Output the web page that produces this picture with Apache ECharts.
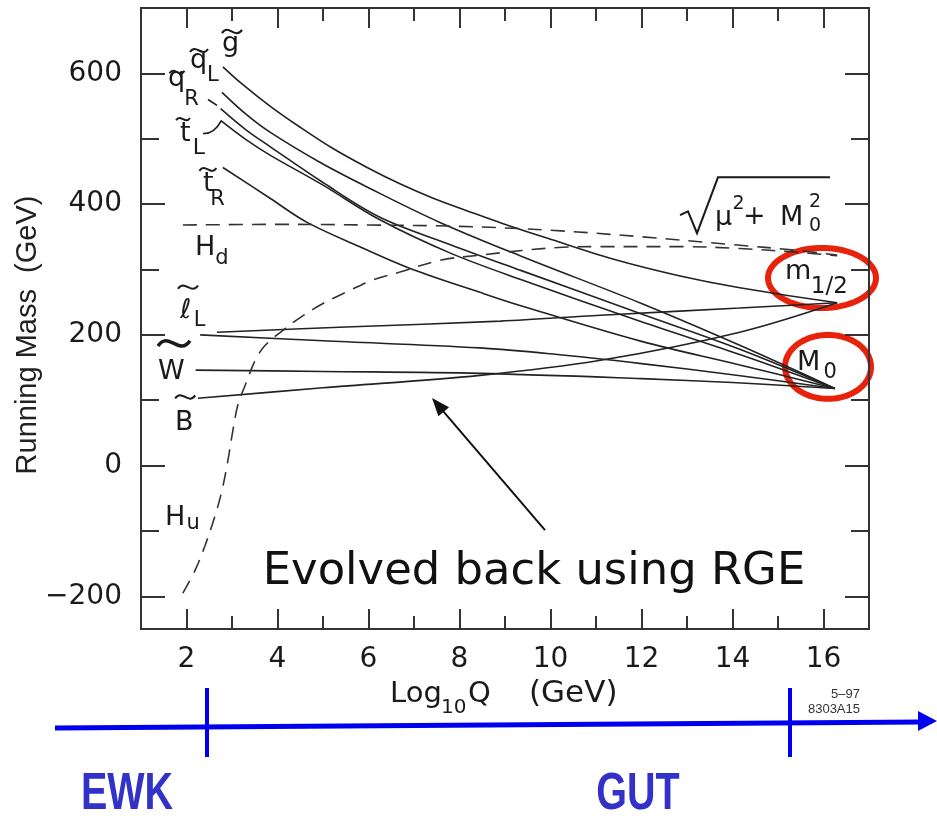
<!DOCTYPE html>
<html>
<head>
<meta charset="utf-8">
<script src="https://cdn.jsdelivr.net/npm/echarts@6/dist/echarts.min.js"></script>
<style>
  html, body { margin: 0; padding: 0; background: #fff; }
  #chart { width: 937px; height: 819px; }
</style>
</head>
<body>
<div id="chart"></div>
<script>
// Running sparticle masses [Log10 Q, mass in GeV]
const gluino = [[2.8, 610], [3.2, 585], [3.835, 550], [4.49, 518], [5.22, 485], [5.97, 456], [6.69, 431], [7.42, 409], [8.16, 390], [8.96, 370], [9.92, 348], [11.37, 316], [12.85, 290], [14.16, 272], [16.3, 249]];
const squarkL = [[2.78, 571], [3.3, 538], [3.835, 510], [4.93, 464], [6.03, 424], [7.57, 372], [9.33, 321], [12, 248], [14.16, 184], [16.25, 118]];
const squarkR = [[2.75, 546], [3.3, 514], [3.835, 488], [5, 433], [6.25, 380], [7.8, 338], [9.33, 299], [12, 232], [14.16, 178], [16.25, 118]];
const stopL = [[2.75, 528], [3.3, 499], [3.835, 475], [5, 429], [6.25, 376], [7.8, 325], [9.33, 285], [12, 220], [14.16, 170], [16.25, 118]];
const stopR = [[2.8, 456], [3.835, 409], [4.65, 372], [5.8, 335], [6.9, 302], [8.45, 265], [9.33, 245], [12, 190], [14.16, 154], [16.25, 118]];
const sleptonL = [[2.3, 200], [5, 191], [8.45, 180], [10, 171], [12, 156], [14, 139], [16.25, 118]];
const sleptonR = [[2.2, 146], [5, 144], [8.45, 141], [12, 133], [14, 127], [16.25, 118]];
const wino = [[2.67, 204], [5.5, 212], [8.9, 221], [11.1, 230], [14.16, 241], [16.3, 249]];
const bino = [[2.25, 103], [5, 119], [8.45, 138], [11.1, 161], [14.16, 204], [16.3, 249]];
const higgsD = [[1.92, 368], [4, 369], [6, 368], [8, 366], [10, 360], [12, 350], [14, 338], [15.3, 330], [16.3, 322]];
const higgsU = [[1.92, -195], [2.19, -160], [2.41, -122], [2.63, -76], [2.78, -38], [2.91, 8], [3.02, 54], [3.13, 93], [3.29, 123], [3.51, 161], [3.73, 184], [4.12, 207], [4.49, 226], [5.0, 248], [5.59, 268], [6.1, 284], [6.69, 296], [7.57, 314], [8.45, 322], [10.27, 334], [11.09, 335], [12.85, 335], [14.16, 332], [15.48, 326], [16.3, 321]];

// Axis ticks and labels
const xMajor = [2, 4, 6, 8, 10, 12, 14, 16];
const xMinor = [3, 5, 7, 9, 11, 13, 15];
const yMajor = [-200, 0, 200, 400, 600];
const yMinor = [-100, 100, 300, 500];

const INK = '#222';
const FRAME = '#333';
const LABEL_FONT = '"DejaVu Sans", sans-serif';

function xAxis(position, ticks, len, withLabels) {
  return {
    type: 'value', min: 1, max: 17, position: position,
    axisLine: { show: true, onZero: false, lineStyle: { color: FRAME, width: 2 } },
    axisTick: { show: true, inside: true, length: len, customValues: ticks, lineStyle: { color: FRAME, width: 2 } },
    axisLabel: withLabels
      ? { show: true, customValues: ticks, fontFamily: LABEL_FONT, fontSize: 28, color: '#1a1a1a', margin: 17 }
      : { show: false },
    splitLine: { show: false }
  };
}
function yAxis(position, ticks, len, withLabels) {
  return {
    type: 'value', min: -250, max: 700, position: position,
    axisLine: { show: true, onZero: false, lineStyle: { color: FRAME, width: 2 } },
    axisTick: { show: true, inside: true, length: len, customValues: ticks, lineStyle: { color: FRAME, width: 2 } },
    axisLabel: withLabels
      ? { show: true, customValues: ticks, fontFamily: LABEL_FONT, fontSize: 28, color: '#1a1a1a', margin: 19,
          formatter: v => (v < 0 ? '\u2212' + Math.abs(v) : String(v)) }
      : { show: false },
    splitLine: { show: false }
  };
}

function solid(data) {
  return { type: 'line', data: data, xAxisIndex: 0, yAxisIndex: 0, smooth: 0.35, showSymbol: false, silent: true,
           lineStyle: { color: INK, width: 1.6 } };
}
function dashed(data) {
  return { type: 'line', data: data, xAxisIndex: 0, yAxisIndex: 0, smooth: 0.35, showSymbol: false, silent: true,
           lineStyle: { color: '#333', width: 1.6, type: [14, 9] } };
}

const chart = echarts.init(document.getElementById('chart'), null, { renderer: 'canvas' });
chart.setOption({
  animation: false,
  backgroundColor: '#fff',
  grid: { left: 141, right: 68, top: 8, bottom: 190 },
  xAxis: [
    xAxis('bottom', xMajor, 20, true), xAxis('bottom', xMinor, 13, false),
    xAxis('top', xMajor, 20, false), xAxis('top', xMinor, 13, false)
  ],
  yAxis: [
    yAxis('left', yMajor, 24, true), yAxis('left', yMinor, 18, false),
    yAxis('right', yMajor, 24, false), yAxis('right', yMinor, 18, false)
  ],
  series: [
    solid(gluino), solid(squarkL), solid(squarkR), solid(stopL), solid(stopR),
    solid(sleptonL), solid(sleptonR), solid(wino), solid(bino),
    dashed(higgsD), dashed(higgsU)
  ]
});

// ---- annotations placed in data coordinates ----
const toPx = p => chart.convertToPixel({ gridIndex: 0 }, p);
const g = [];

// text whose baseline sits at data point (x, y), left aligned
function label(x, y, s, size) {
  const p = toPx([x, y]);
  g.push({ type: 'text', x: p[0], y: p[1] - 0.35 * size, silent: true,
           style: { text: s, font: size + 'px ' + LABEL_FONT, fill: '#1a1a1a', textAlign: 'left', textVerticalAlign: 'middle' } });
}
// wavy tilde centred on data point (one S-shaped cubic)
function tilde(x, y, w, lw) {
  const p = toPx([x, y]);
  const h = w * 0.32;
  g.push({ type: 'bezierCurve', silent: true,
           shape: { x1: p[0] - w / 2, y1: p[1] + h * 0.25, cpx1: p[0] - w / 6, cpy1: p[1] - h * 1.3,
                    cpx2: p[0] + w / 6, cpy2: p[1] + h * 1.3, x2: p[0] + w / 2, y2: p[1] - h * 0.25 },
           style: { fill: 'none', stroke: '#1a1a1a', lineWidth: lw || 2 } });
}
function segment(a, b, lw) {
  const p = toPx(a), q = toPx(b);
  g.push({ type: 'line', silent: true, shape: { x1: p[0], y1: p[1], x2: q[0], y2: q[1] }, style: { stroke: '#1a1a1a', lineWidth: lw || 1.6 } });
}

// gluino
tilde(3.0, 664, 20); label(2.78, 631, 'g', 27);
// squark L
tilde(2.275, 635, 18); label(2.077, 604, 'q', 27); label(2.45, 586, 'L', 21);
// squark R
tilde(1.791, 602, 15); label(1.593, 577, 'q', 27); label(1.95, 548, 'R', 21);
segment([2.473, 560], [2.67, 551]);
// stop L
tilde(1.923, 530, 14); label(1.857, 493, 't', 27); label(2.14, 473, 'L', 22);
(() => {
  const a = toPx([2.363, 508]), c = toPx([2.604, 507]), b = toPx([2.758, 527]);
  g.push({ type: 'bezierCurve', silent: true, shape: { x1: a[0], y1: a[1], cpx1: c[0], cpy1: c[1], x2: b[0], y2: b[1] },
           style: { fill: 'none', stroke: '#1a1a1a', lineWidth: 1.6 } });
})();
// stop R
tilde(2.47, 453, 17); label(2.363, 417, 't', 27); label(2.52, 395, 'R', 21);
// Higgs down
label(2.187, 319, 'H', 27); label(2.63, 305, 'd', 21);
// slepton L
tilde(2.033, 273, 20); label(1.857, 222, '\u2113', 27); label(2.16, 210, 'L', 21);
// wino
tilde(1.725, 187, 32, 3.5); label(1.374, 128, 'W', 27);
// bino
tilde(1.97, 105, 20); label(1.747, 51, 'B', 27);
// Higgs up
label(1.527, -94, 'H', 27); label(2.0, -100, 'u', 21);
// sqrt(mu^2 + M0^2)
g.push({ type: 'polyline', silent: true,
         shape: { points: [[12.846, 383], [13.022, 389], [13.22, 355.5], [13.681, 441], [16.143, 441]].map(toPx) },
         style: { fill: 'none', stroke: '#1a1a1a', lineWidth: 2 } });
label(13.615, 365, '\u03bc', 27); label(14.0, 390, '2', 19); label(14.23, 366, '+', 27);
label(15.044, 364, 'M', 27); label(15.68, 393, '2', 19); label(15.68, 356, '0', 19);
// m_1/2 and M_0
label(15.154, 281, 'm', 27); label(15.72, 261, '1/2', 23);
label(15.418, 143, 'M', 27); label(16.0, 131, '0', 21);

// red ellipses around the boundary values
[[15.967, 287, 54, 30], [16.099, 151, 43, 32]].forEach(e => {
  const c = toPx([e[0], e[1]]);
  const pts = [];
  for (let i = 0; i < 96; i++) {
    const a = (i / 96) * Math.PI * 2;
    pts.push([c[0] + e[2] * Math.cos(a), c[1] + e[3] * Math.sin(a)]);
  }
  g.push({ type: 'polygon', silent: true, shape: { points: pts },
           style: { fill: 'none', stroke: '#e8230c', lineWidth: 6 } });
});

// arrow pointing at the evolved curves
(() => {
  const t = toPx([9.879, -98.6]), h = toPx([7.396, 103.2]);
  const dx = h[0] - t[0], dy = h[1] - t[1], L = Math.hypot(dx, dy);
  const ux = dx / L, uy = dy / L, nx = -uy, ny = ux, hl = 18, hw = 7;
  g.push({ type: 'line', silent: true, shape: { x1: t[0], y1: t[1], x2: h[0] - ux * hl * 0.8, y2: h[1] - uy * hl * 0.8 },
           style: { stroke: '#111', lineWidth: 2 } });
  g.push({ type: 'polygon', silent: true,
           shape: { points: [[h[0], h[1]], [h[0] - ux * hl + nx * hw, h[1] - uy * hl + ny * hw], [h[0] - ux * hl - nx * hw, h[1] - uy * hl - ny * hw]] },
           style: { fill: '#111' } });
})();
(() => {
  const c = toPx([9.637, -163]);
  g.push({ type: 'text', x: c[0], y: c[1], scaleX: 1.02, silent: true,
           style: { text: 'Evolved back using RGE', font: '44px "Comic Sans MS", "DejaVu Sans", sans-serif', fill: '#111',
                    textAlign: 'center', textVerticalAlign: 'middle' } });
})();

// axis titles
g.push({ type: 'text', x: 28, y: 335, rotation: Math.PI / 2, silent: true,
         style: { text: 'Running Mass  (GeV)', font: '29px "Liberation Sans", Arial, sans-serif', fill: '#222',
                  textAlign: 'center', textVerticalAlign: 'middle' } });
[['Log', 390, 705, 29], ['10', 441, 715, 20], ['Q', 468, 705, 29], ['(GeV)', 529, 705, 31]].forEach(t => {
  g.push({ type: 'text', x: t[1], y: t[2] - 0.35 * t[3], silent: true,
           style: { text: t[0], font: t[3] + 'px ' + LABEL_FONT, fill: '#1a1a1a', textAlign: 'left', textVerticalAlign: 'middle' } });
});
// plot id
g.push({ type: 'text', x: 860, y: 694, silent: true,
         style: { text: '5\u201397', font: '13px "Liberation Sans", Arial, sans-serif', fill: '#333', textAlign: 'right', textVerticalAlign: 'middle' } });
g.push({ type: 'text', x: 860, y: 709, silent: true,
         style: { text: '8303A15', font: '13px "Liberation Sans", Arial, sans-serif', fill: '#333', textAlign: 'right', textVerticalAlign: 'middle' } });

// energy-scale arrow below the plot
const BLUE = '#0000ee';
g.push({ type: 'line', silent: true, shape: { x1: 55, y1: 728, x2: 922, y2: 722 }, style: { stroke: BLUE, lineWidth: 5 } });
g.push({ type: 'polygon', silent: true, shape: { points: [[937, 721], [918, 711], [918, 731]] }, style: { fill: BLUE } });
g.push({ type: 'line', silent: true, shape: { x1: 207, y1: 688, x2: 207, y2: 757 }, style: { stroke: BLUE, lineWidth: 4 } });
g.push({ type: 'line', silent: true, shape: { x1: 790, y1: 688, x2: 790, y2: 757 }, style: { stroke: BLUE, lineWidth: 4 } });
[['EWK', 127], ['GUT', 638]].forEach(t => {
  g.push({ type: 'text', x: t[1], y: 795, scaleX: 0.76, silent: true,
           style: { text: t[0], font: 'bold 52px "Liberation Sans", Arial, sans-serif', fill: '#3232c8',
                    textAlign: 'center', textVerticalAlign: 'middle' } });
});

chart.setOption({ graphic: g });
</script>
</body>
</html>
